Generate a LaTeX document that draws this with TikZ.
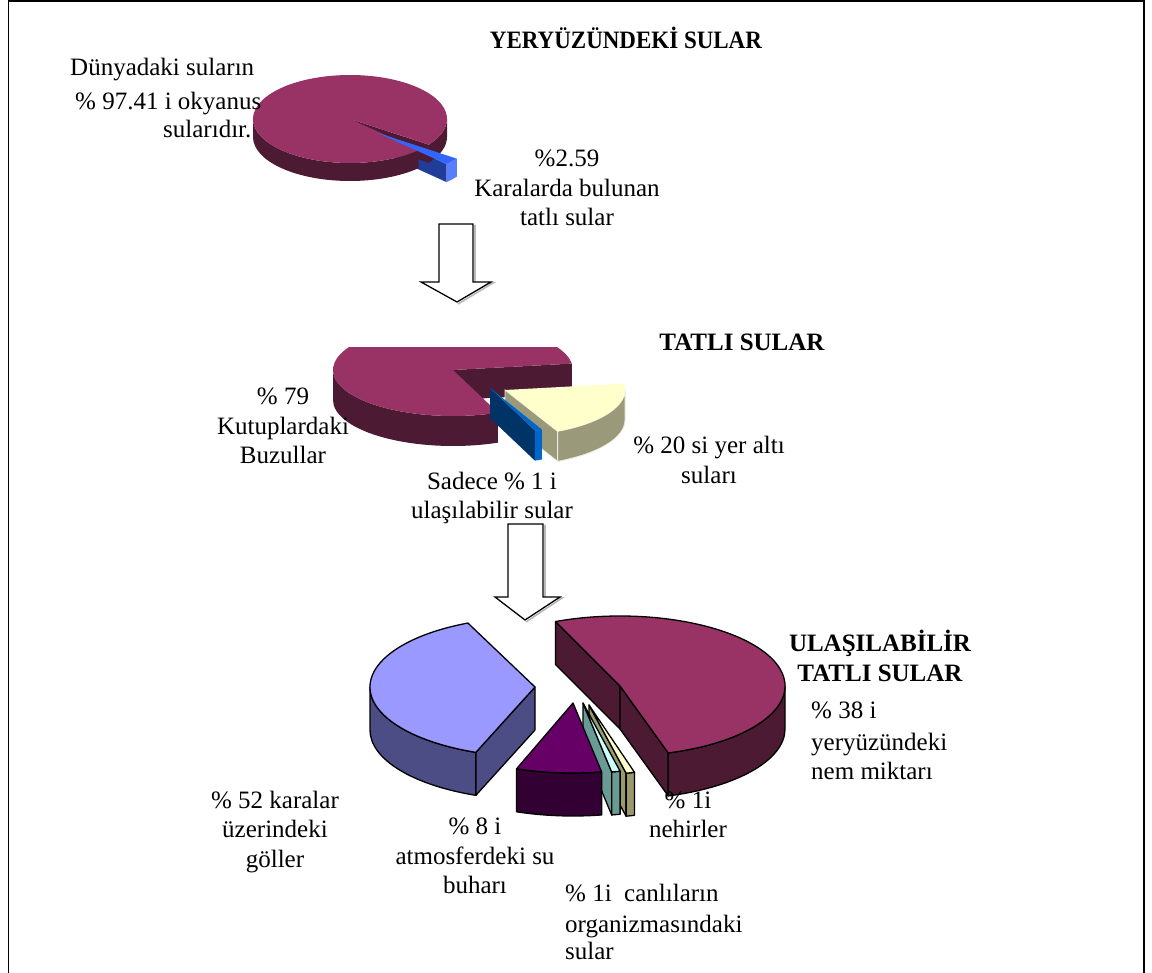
\documentclass[tikz,border=0pt]{standalone}
\usepackage{fontspec}
\setmainfont{Liberation Serif}
\definecolor{mar}{HTML}{993366}
\definecolor{marside}{HTML}{4D1A33}
\definecolor{bluetop}{HTML}{3366FF}
\definecolor{bluecut}{HTML}{1F3D99}
\definecolor{bluerim}{HTML}{5A7DFF}
\definecolor{yel}{HTML}{FFFFCC}
\definecolor{yelside}{HTML}{9A9A7A}
\definecolor{pbcut}{HTML}{003366}
\definecolor{pbrim}{HTML}{0066CC}
\definecolor{lake}{HTML}{9999FF}
\definecolor{lakeside}{HTML}{4D4D85}
\definecolor{atm}{HTML}{660066}
\definecolor{atmside}{HTML}{330033}
\definecolor{cyn}{HTML}{CCFFFF}
\definecolor{cynside}{HTML}{6A9A96}
\definecolor{olv}{HTML}{99996B}
% top face: cx, cy, rx, ry, start, end, style
\newcommand\ptop[7]{\path[#7] (#1,-#2) -- ++(#5:#3 and #4) arc[start angle=#5,end angle=#6,x radius=#3,y radius=#4] -- cycle;}
% rim side: cx, cy, rx, ry, start, end, depth, style
\newcommand\prim[8]{\path[#8] (#1,-#2) ++(#5:#3 and #4) arc[start angle=#5,end angle=#6,x radius=#3,y radius=#4] -- ++(0,-#7) arc[start angle=#6,end angle=#5,x radius=#3,y radius=#4] -- cycle;}
% cut face: cx, cy, rx, ry, angle, depth, style
\newcommand\pcut[7]{\path[#7] (#1,-#2) -- ++(#5:#3 and #4) -- ++(0,-#6) -- ++(#5+180:#3 and #4) -- cycle;}
\tikzset{
  txt/.style={font=\fontsize{25}{29.5}\selectfont, align=center, inner sep=0pt},
  ltxt/.style={font=\fontsize{25}{29.5}\selectfont, inner sep=0pt, anchor=base west},
  hd/.style={font=\bfseries\fontsize{25}{29.5}\selectfont, align=center, inner sep=0pt},
  pie3/.style={draw=black, line width=1.3pt, line join=round},
  blockarrow/.style={draw=black, fill=white, line width=1.3pt, line join=miter},
  arrowshadow/.style={draw=gray!55, line width=1.6pt},
  frame/.style={draw=black, line width=1.8pt}
}
\begin{document}
\begin{tikzpicture}[x=1pt,y=1pt]
\useasboundingbox (0,0) rectangle (1152,-973);
\fill[white] (0,0) rectangle (1152,-973);
\draw[frame] (8.5,-973) -- (8.5,-1) -- (1144,-1) -- (1144,-973);

% ---------- Pie 1 ----------
\pcut{378}{133}{97}{44}{-45}{18}{fill=bluecut}
\prim{350}{119}{97}{44}{180}{315}{18}{fill=marside}
\pcut{350}{119}{97}{44}{-35.7}{18}{fill=marside}
\prim{350}{119}{97}{44}{-35.7}{0}{18}{fill=marside}
\ptop{350}{119}{97}{44}{-35.7}{315}{fill=mar}
\prim{378}{133}{97}{44}{-45}{-35.7}{18}{fill=bluerim}
\ptop{378}{133}{97}{44}{-45}{-35.7}{fill=bluetop}

% ---------- Pie 2 ----------
\begin{scope}
\clip (300,-348) rectangle (700,-520);
\prim{453}{370}{120}{46}{180}{292}{30}{fill=marside}
\pcut{453}{370}{120}{46}{8}{30}{fill=marside}
\ptop{453}{370}{120}{46}{8}{292}{fill=mar}
\end{scope}
\pcut{505}{390}{120}{46}{-64}{30}{fill=yelside,draw=white!80!yelside,line width=0.8pt}
\prim{505}{390}{120}{46}{-64}{0}{30}{fill=yelside,draw=white!80!yelside,line width=0.8pt}
\ptop{505}{390}{120}{46}{-64}{8}{fill=yel}
\pcut{490}{388}{120}{46}{-68}{30}{fill=pbcut}
\prim{490}{388}{120}{46}{-68}{-64.4}{30}{fill=pbrim}
\ptop{490}{388}{120}{46}{-68}{-64.4}{fill=pbrim}

% ---------- Pie 3 ----------
\pcut{620}{686}{165}{70}{113}{43}{pie3,fill=marside}
\pcut{620}{686}{165}{70}{-73}{43}{pie3,fill=marside}
\prim{620}{686}{165}{70}{-73}{0}{43}{pie3,fill=marside}
\ptop{620}{686}{165}{70}{-73}{113}{pie3,fill=mar}
\prim{535}{687}{165}{70}{180}{249}{43}{pie3,fill=lakeside}
\pcut{535}{687}{165}{70}{249}{43}{pie3,fill=lakeside}
\ptop{535}{687}{165}{70}{114}{249}{pie3,fill=lake}
\pcut{589}{705}{165}{70}{-77}{43}{pie3,fill=olv}
\prim{589}{705}{165}{70}{-77}{-74}{43}{pie3,fill=olv}
\ptop{589}{705}{165}{70}{-77}{-74}{pie3,fill=yel}
\pcut{583}{703}{165}{70}{-80}{43}{pie3,fill=cynside}
\prim{583}{703}{165}{70}{-80}{-77}{43}{pie3,fill=cynside}
\ptop{583}{703}{165}{70}{-80}{-77}{pie3,fill=cyn}
\prim{573}{703}{165}{70}{-110}{-80}{43}{pie3,fill=atmside}
\ptop{573}{703}{165}{70}{-110}{-80}{pie3,fill=atm}

% ---------- Block arrows ----------
\path[arrowshadow] (475,-225) -- (475,-283) -- (493,-283) -- (458,-304);
\path[blockarrow] (439,-224) -- (473,-224) -- (473,-282) -- (491,-282) -- (457,-302) -- (421,-282) -- (439,-282) -- cycle;
\path[arrowshadow] (545,-525) -- (545,-598) -- (562,-598) -- (526,-622);
\path[blockarrow] (508,-524) -- (543,-524) -- (543,-597) -- (560,-597) -- (525,-620) -- (495,-597) -- (508,-597) -- cycle;

% ---------- Texts ----------
\node[hd] (title) at (626,-38) {\scalebox{0.92}[1]{YERYÜZÜNDEKİ SULAR}};
\node[ltxt] (oceanA) at (70,-76) {Dünyadaki suların};
\node[ltxt] (oceanB) at (75,-110) {\% 97.41 i okyanus};
\node[ltxt] (oceanC) at (163,-138) {sularıdır.};
\node[txt] (land) at (567,-188) {\%2.59\\Karalarda bulunan\\tatlı sular};
\node[hd] (fresh) at (742,-342) {TATLI SULAR};
\node[txt] (polar) at (283,-426) {\% 79\\Kutuplardaki\\Buzullar};
\node[txt] (ground) at (709,-460) {\% 20 si yer altı\\suları};
\node[txt] (access) at (492,-498) {Sadece \% 1 i\\ulaşılabilir sular};
\node[hd] (accesshd) at (880,-656) {ULAŞILABİLİR\\TATLI SULAR};
\node[ltxt] (moistA) at (811,-718) {\% 38 i};
\node[ltxt] (moistB) at (811,-750) {yeryüzündeki};
\node[ltxt] (moistC) at (811,-779) {nem miktarı};
\node[txt] (rivers) at (688,-815) {\% 1i\\nehirler};
\node[txt] (lakes) at (275,-832) {\% 52 karalar\\üzerindeki\\göller};
\node[txt] (atmos) at (475,-856) {\% 8 i\\atmosferdeki su\\buharı};
\node[ltxt] (orgA) at (565,-901) {\% 1i\ \ canlıların};
\node[ltxt] (orgB) at (565,-932) {organizmasındaki};
\node[ltxt] (orgC) at (565,-959) {sular};
\end{tikzpicture}
\end{document}
